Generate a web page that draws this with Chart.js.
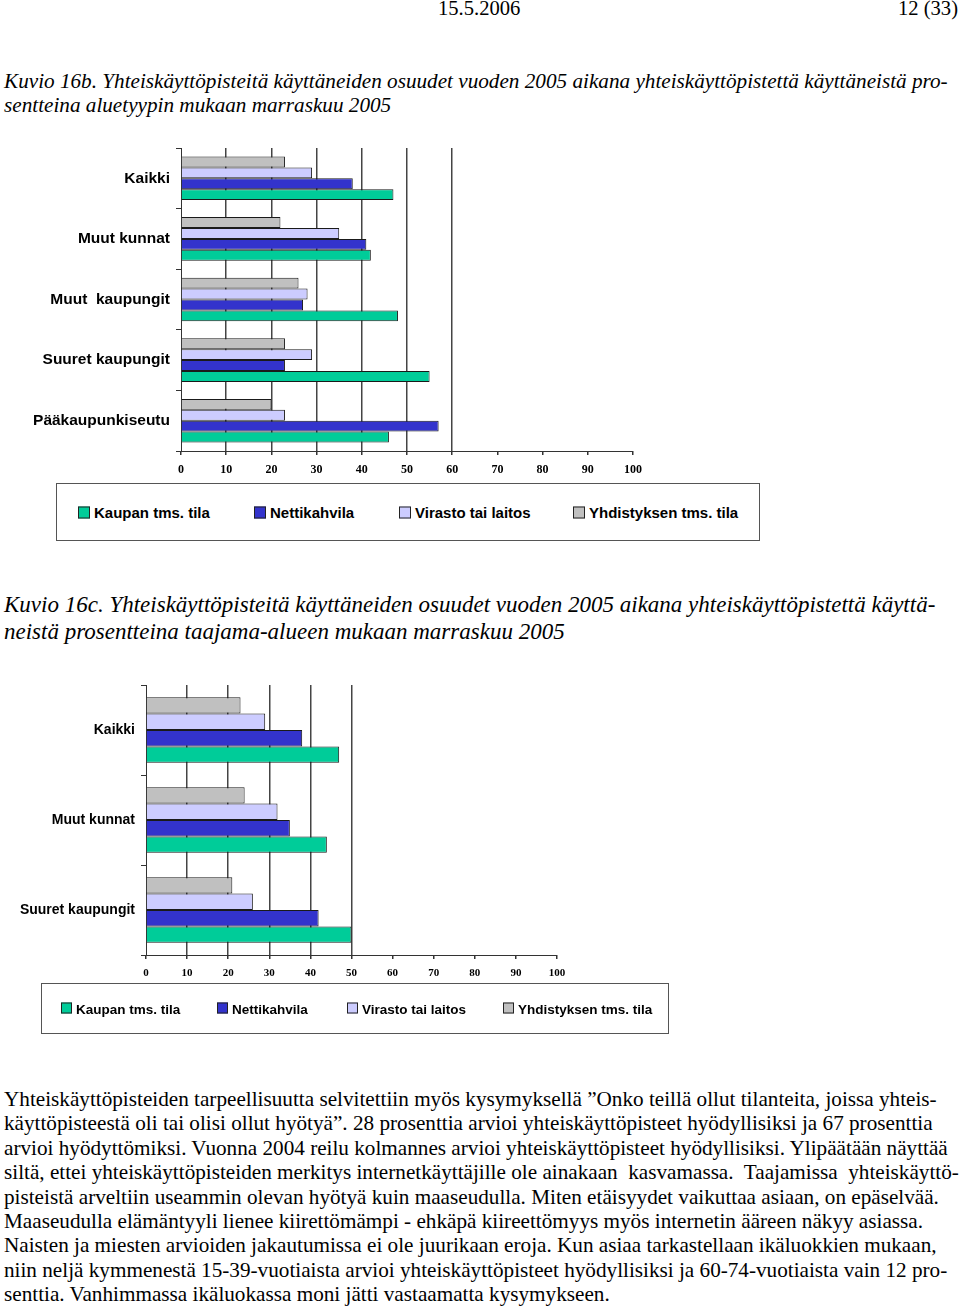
<!DOCTYPE html>
<html>
<head>
<meta charset="utf-8">
<script src="https://cdn.jsdelivr.net/npm/chart.js@4"></script>
<style>
  body { margin: 0; width: 960px; height: 1307px; background: #fff; position: relative; overflow: hidden; font-family: "Liberation Serif", "Times New Roman", serif; color: #000; }
  .abs { position: absolute; white-space: pre; }
  .head { font-size: 20.6px; top: -3px; }
  .cap1 { font-style: italic; font-size: 21.2px; left: 4px; line-height: 24px; }
  .cap2 { font-style: italic; font-size: 23px; left: 4px; line-height: 27px; }
  .body { font-size: 21.2px; left: 4px; top: 1087px; line-height: 24.4px; }
  .legend { position: absolute; border: 1px solid #555; box-sizing: border-box; font-family: "Liberation Sans", Arial, sans-serif; font-weight: bold; }
  .legend .item { position: absolute; white-space: nowrap; }
  .legend .sw { display: inline-block; border: 1px solid #222; box-sizing: border-box; vertical-align: middle; margin-right: 4px; position: relative; top: -1px; }
</style>
</head>
<body>
<div class="abs head" style="left:438px">15.5.2006</div>
<div class="abs head" style="right:2px">12 (33)</div>

<div class="abs cap1" style="top:69px">Kuvio 16b. Yhteiskäyttöpisteitä käyttäneiden osuudet vuoden 2005 aikana yhteiskäyttöpistettä käyttäneistä pro-
sentteina aluetyypin mukaan marraskuu 2005</div>

<div class="abs" style="left:0;top:140px;width:660px;height:340px"><canvas id="chartB"></canvas></div>
<div class="legend" id="legendB" style="left:56px;top:483px;width:704px;height:58px;font-size:15px"></div>

<div class="abs cap2" style="top:591px">Kuvio 16c. Yhteiskäyttöpisteitä käyttäneiden osuudet vuoden 2005 aikana yhteiskäyttöpistettä käyttä-
neistä prosentteina taajama-alueen mukaan marraskuu 2005</div>

<div class="abs" style="left:0;top:677px;width:580px;height:310px"><canvas id="chartC"></canvas></div>
<div class="legend" id="legendC" style="left:41px;top:983px;width:628px;height:51px;font-size:13.5px"></div>

<div class="abs body">Yhteiskäyttöpisteiden tarpeellisuutta selvitettiin myös kysymyksellä ”Onko teillä ollut tilanteita, joissa yhteis-
käyttöpisteestä oli tai olisi ollut hyötyä”. 28 prosenttia arvioi yhteiskäyttöpisteet hyödyllisiksi ja 67 prosenttia
arvioi hyödyttömiksi. Vuonna 2004 reilu kolmannes arvioi yhteiskäyttöpisteet hyödyllisiksi. Ylipäätään näyttää
siltä, ettei yhteiskäyttöpisteiden merkitys internetkäyttäjille ole ainakaan  kasvamassa.  Taajamissa  yhteiskäyttö-
pisteistä arveltiin useammin olevan hyötyä kuin maaseudulla. Miten etäisyydet vaikuttaa asiaan, on epäselvää.
Maaseudulla elämäntyyli lienee kiirettömämpi - ehkäpä kiireettömyys myös internetin ääreen näkyy asiassa.
Naisten ja miesten arvioiden jakautumissa ei ole juurikaan eroja. Kun asiaa tarkastellaan ikäluokkien mukaan,
niin neljä kymmenestä 15-39-vuotiaista arvioi yhteiskäyttöpisteet hyödyllisiksi ja 60-74-vuotiaista vain 12 pro-
senttia. Vanhimmassa ikäluokassa moni jätti vastaamatta kysymykseen.</div>

<script>
// series, top bar to bottom bar inside each group
var seriesNames = ["Yhdistyksen tms. tila", "Virasto tai laitos", "Nettikahvila", "Kaupan tms. tila"];
var seriesColors = ["#c0c0c0", "#ccccff", "#3333cc", "#00cc99"];

// Kuvio 16b: aluetyyppi
var areaTypes = ["Kaikki", "Muut kunnat", "Muut  kaupungit", "Suuret kaupungit", "Pääkaupunkiseutu"];
var areaYhdistys = [23, 22, 26, 23, 20];
var areaVirasto = [29, 35, 28, 29, 23];
var areaNetti = [38, 41, 27, 23, 57];
var areaKauppa = [47, 42, 48, 55, 46];

// Kuvio 16c: taajama-alue
var urbanTypes = ["Kaikki", "Muut kunnat", "Suuret kaupungit"];
var urbanYhdistys = [23, 24, 21];
var urbanVirasto = [29, 32, 26];
var urbanNetti = [38, 35, 42];
var urbanKauppa = [47, 44, 50];

var xTicks = [0, 10, 20, 30, 40, 50, 60, 70, 80, 90, 100];

function makeChart(id, labels, values, opt) {
  var datasets = values.map(function (v, i) {
    return {
      label: seriesNames[i],
      data: v,
      backgroundColor: seriesColors[i],
      borderColor: "#1a1a1a",
      borderWidth: 1,
      categoryPercentage: opt.catPct,
      barPercentage: 1.0
    };
  });
  return new Chart(document.getElementById(id), {
    type: "bar",
    data: { labels: labels, datasets: datasets },
    options: {
      indexAxis: "y",
      responsive: true,
      maintainAspectRatio: false,
      animation: false,
      layout: { padding: { top: opt.padTop, right: opt.padRight, left: 0, bottom: 0 } },
      plugins: { legend: { display: false }, tooltip: { enabled: false } },
      scales: {
        x: {
          min: 0,
          max: 100,
          afterBuildTicks: function (s) { s.ticks = xTicks.map(function (v) { return { value: v }; }); },
          afterFit: function (s) { s.height = opt.xHeight; },
          border: { display: true, color: "#333", width: 1 },
          grid: {
            color: function (c) { return c.tick && c.tick.value > 0 && c.tick.value <= opt.gridMax ? "#444" : "rgba(0,0,0,0)"; },
            tickColor: "#333",
            tickLength: 4,
            lineWidth: 1.5
          },
          ticks: {
            color: "#000",
            padding: opt.xPad,
            maxRotation: 0,
            font: { family: "Liberation Serif", weight: "bold", size: opt.xFont }
          }
        },
        y: {
          // fixed label column; no extra room above/below for the labels
          afterFit: function (s) { s.width = opt.yWidth; s.paddingTop = 0; s.paddingBottom = 0; },
          border: { display: true, color: "#333", width: 1 },
          grid: { drawOnChartArea: false, tickColor: "#333", tickLength: 5, offset: true },
          ticks: {
            color: "#000",
            padding: 6,
            font: { family: "Liberation Sans", weight: "bold", size: opt.yFont }
          }
        }
      }
    }
  });
}

function makeLegend(id, xs, sw) {
  var box = document.getElementById(id);
  // legend lists series from last to first, as in the original
  for (var k = 0; k < seriesNames.length; k++) {
    var i = seriesNames.length - 1 - k;
    var it = document.createElement("div");
    it.className = "item";
    it.style.left = xs[k] + "px";
    it.style.top = "50%";
    it.style.transform = "translateY(-50%)";
    var s = document.createElement("span");
    s.className = "sw";
    s.style.width = sw + "px";
    s.style.height = sw + "px";
    s.style.background = seriesColors[i];
    it.appendChild(s);
    it.appendChild(document.createTextNode(seriesNames[i]));
    box.appendChild(it);
  }
}

makeChart("chartB", areaTypes, [areaYhdistys, areaVirasto, areaNetti, areaKauppa],
  { catPct: 0.72, padTop: 8, padRight: 27, xHeight: 29, yWidth: 181, gridMax: 60, xFont: 12, yFont: 15.5, xPad: 8 });
makeChart("chartC", urbanTypes, [urbanYhdistys, urbanVirasto, urbanNetti, urbanKauppa],
  { catPct: 0.73, padTop: 8, padRight: 23, xHeight: 32, yWidth: 146, gridMax: 50, xFont: 11, yFont: 14, xPad: 8 });

makeLegend("legendB", [21, 197, 342, 516], 12);
makeLegend("legendC", [19, 175, 305, 461], 11);
</script>
</body>
</html>
